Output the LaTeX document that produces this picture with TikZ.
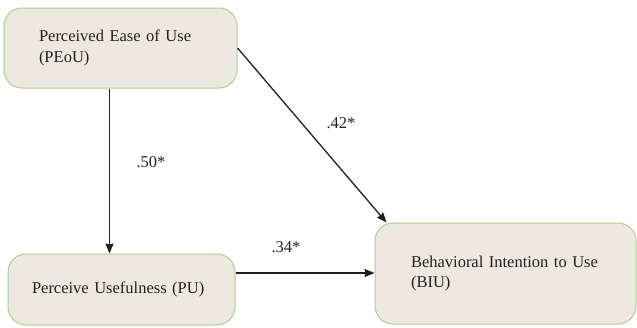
\documentclass[tikz,border=0pt]{standalone}
\usepackage{fontspec}
\setmainfont{Liberation Serif}
\usetikzlibrary{arrows.meta}
\definecolor{boxfill}{RGB}{237,233,224}
\definecolor{boxline}{RGB}{169,209,142}
\definecolor{ink}{RGB}{35,31,32}
\begin{document}
\begin{tikzpicture}[x=1pt,y=-1pt,
    factor/.style={draw=boxline,fill=boxfill,line width=1pt,rounded corners=18pt,
        align=left,text=ink,font=\fontsize{16.5}{20.5}\selectfont},
    path/.style={draw=ink,line width=1.3pt,-{Stealth[length=10pt,width=8pt,inset=1pt]}},
    coef/.style={text=ink,font=\fontsize{16.5}{20}\selectfont}]
                \useasboundingbox (0,0) rectangle (637,327);
                \node[factor,text width=163pt,inner xsep=35pt,minimum height=80pt] (peou) at (120.5,48) {\mbox{Perceived Ease of Use}\\(PEoU)};
                \node[factor,text width=179pt,inner xsep=24pt,minimum height=71pt] (pu) at (121.5,289.5) {\mbox{Perceive Usefulness (PU)}};
                \node[factor,text width=189pt,inner xsep=36pt,minimum height=101pt] (biu) at (505.5,273.5) {\mbox{Behavioral Intention to Use}\\(BIU)};
                \draw[path] ([xshift=-11pt]peou.south) -- ([xshift=-11pt]peou.south |- pu.north);
                \draw[path] (peou.east) -- ([xshift=12pt]biu.north west);
                \draw[path] ([yshift=16.5pt]pu.east) -- ([yshift=16.5pt]pu.east -| biu.west);
                \node[coef] (b1) at (151,162) {.50*};
                \node[coef] (b2) at (341,123) {.42*};
                \node[coef] (b3) at (286,247) {.34*};
            \end{tikzpicture}
\end{document}
